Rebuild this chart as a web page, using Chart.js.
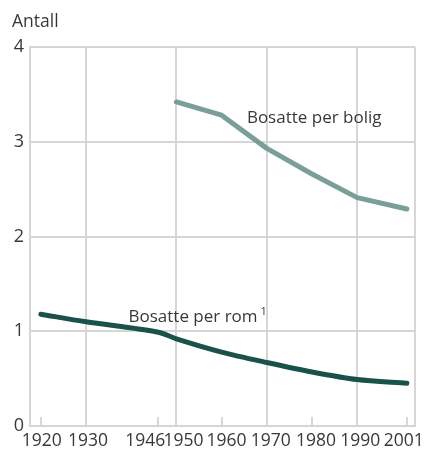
<!DOCTYPE html>
<html>
<head>
<meta charset="utf-8">
<script src="https://cdn.jsdelivr.net/npm/chart.js@4"></script>
<style>
  html, body { margin: 0; padding: 0; background: #fff; }
  #wrap { width: 426px; height: 449px; position: relative; }
</style>
</head>
<body>
<div id="wrap"><canvas id="c" width="426" height="449"></canvas></div>
<script>
// ---- data ----
const years = [1920, 1930, 1946, 1950, 1960, 1970, 1980, 1990, 2001];
const xTickLabels = ['1920', '1930', '1946', '1950', '1960', '1970', '1980', '1990', '2001'];
const perRoom = [1.18, 1.10, 0.99, 0.92, 0.78, 0.67, 0.57, 0.49, 0.45];
const dwellingYears = [1950, 1960, 1970, 1980, 1990, 2001];
const perDwelling = [3.42, 3.28, 2.93, 2.66, 2.41, 2.29];
const yTicks = [0, 1, 2, 3, 4];
const gridYears = [1930, 1950, 1970, 1990];
const yAxisTitle = 'Antall';
const seriesNames = ['Bosatte per bolig', 'Bosatte per rom'];
const footnoteMark = '1';

const X_MIN = 1917.6, X_MAX = 2002.8;
const FONT = '"Open Sans", "DejaVu Sans", sans-serif';
const TEXT = '#383838';
const GRID = '#d6d6d6';
const C_DWELL = '#7a9e98';
const C_ROOM = '#1b514b';

const labelNudge = { 1920: 1, 1930: 2, 1946: -13, 1950: 7, 1960: 5, 1970: 4, 1980: 4, 1990: 3, 2001: -3 };

const overlay = {
  id: 'overlay',
  afterDraw(chart) {
    const ctx = chart.ctx;
    const xs = chart.scales.x, ys = chart.scales.y;
    const area = chart.chartArea;
    ctx.save();
    // inward tick marks
    ctx.strokeStyle = GRID;
    ctx.lineWidth = 2;
    years.forEach(yr => {
      if (gridYears.includes(yr)) return;
      const px = Math.round(xs.getPixelForValue(yr));
      ctx.beginPath();
      ctx.moveTo(px, area.bottom);
      ctx.lineTo(px, area.bottom - 9);
      ctx.stroke();
    });
    // x labels
    ctx.fillStyle = TEXT;
    ctx.font = '17.5px ' + FONT;
    ctx.textAlign = 'center';
    ctx.textBaseline = 'alphabetic';
    years.forEach((yr, i) => {
      const px = xs.getPixelForValue(yr) + (labelNudge[yr] || 0);
      ctx.fillText(xTickLabels[i], px, area.bottom + 20);
    });
    // axis title
    ctx.font = '17.5px ' + FONT;
    ctx.textAlign = 'left';
    ctx.fillText(yAxisTitle, 12, 27);
    // series labels
    ctx.font = '17px ' + FONT;
    ctx.fillText(seriesNames[0], xs.getPixelForValue(1965.6), ys.getPixelForValue(3.2));
    const rx = xs.getPixelForValue(1939.4), ry = ys.getPixelForValue(1.1);
    ctx.fillText(seriesNames[1], rx, ry);
    const w = ctx.measureText(seriesNames[1]).width;
    ctx.font = '11px ' + FONT;
    ctx.fillText(footnoteMark, rx + w + 3, ry - 7);
    ctx.restore();
  }
};

new Chart(document.getElementById('c'), {
  type: 'line',
  data: {
    datasets: [
      {
        label: seriesNames[0],
        data: dwellingYears.map((y, i) => ({ x: y, y: perDwelling[i] })),
        borderColor: C_DWELL,
        borderWidth: 5,
        pointRadius: 0,
        tension: 0,
        borderCapStyle: 'round',
        borderJoinStyle: 'round'
      },
      {
        label: seriesNames[1],
        data: years.map((y, i) => ({ x: y, y: perRoom[i] })),
        borderColor: C_ROOM,
        borderWidth: 5,
        pointRadius: 0,
        tension: 0.3,
        borderCapStyle: 'round',
        borderJoinStyle: 'round'
      }
    ]
  },
  options: {
    responsive: false,
    animation: false,
    devicePixelRatio: 1,
    layout: { padding: { top: 47, right: 11, left: 0, bottom: 0 } },
    plugins: { legend: { display: false }, tooltip: { enabled: false } },
    scales: {
      x: {
        type: 'linear',
        min: X_MIN,
        max: X_MAX,
        afterBuildTicks(scale) {
          scale.ticks = years.concat([X_MAX]).map(v => ({ value: v }));
        },
        afterFit(scale) { scale.height = 23; },
        ticks: { display: false },
        grid: {
          drawTicks: false,
          lineWidth: 2,
          color: ctx => (ctx.tick && (gridYears.includes(ctx.tick.value) || ctx.tick.value === X_MAX)) ? GRID : 'rgba(0,0,0,0)'
        },
        border: { display: true, color: GRID, width: 2 }
      },
      y: {
        min: 0,
        max: 4,
        afterBuildTicks(scale) {
          scale.ticks = yTicks.map(v => ({ value: v }));
        },
        afterFit(scale) { scale.width = 30; },
        ticks: {
          padding: 6,
          color: TEXT,
          font: { family: FONT, size: 18 }
        },
        grid: { drawTicks: false, lineWidth: 2, color: GRID },
        border: { display: true, color: GRID, width: 2 }
      }
    }
  },
  plugins: [overlay]
});
</script>
</body>
</html>
